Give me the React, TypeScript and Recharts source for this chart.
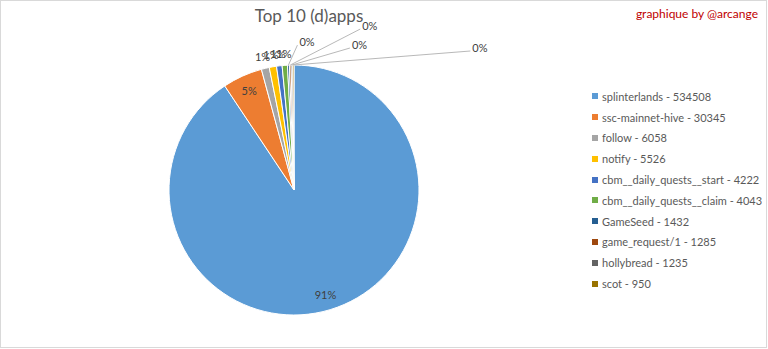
import { PieChart, Pie, Cell, Legend } from 'recharts'

const APPS = [
  'splinterlands',
  'ssc-mainnet-hive',
  'follow',
  'notify',
  'cbm__daily_quests__start',
  'cbm__daily_quests__claim',
  'GameSeed',
  'game_request/1',
  'hollybread',
  'scot',
]
const OPS = [534508, 30345, 6058, 5526, 4222, 4043, 1432, 1285, 1235, 950]
const COLORS = [
  '#5B9BD5',
  '#ED7D31',
  '#A5A5A5',
  '#FFC000',
  '#4472C4',
  '#70AD47',
  '#255E91',
  '#9E480E',
  '#636363',
  '#997300',
]

const data = APPS.map((name, i) => ({ name, value: OPS[i] }))

// leader line ends for the tiny 0% slices, offset from the slice's outer edge
const LEADERS: Record<number, { dx: number; dy: number }> = {
  6: { dx: 9, dy: -20 },
  7: { dx: 70, dy: -36 },
  8: { dx: 58, dy: -17 },
  9: { dx: 177, dy: -14 },
}

const RAD = Math.PI / 180
const FONT = 'Lato, "Open Sans", sans-serif'

function renderLabel(props: any) {
  const { cx, cy, midAngle, outerRadius, percent, index } = props
  const pct = Math.round(percent * 100)
  const cos = Math.cos(-midAngle * RAD)
  const sin = Math.sin(-midAngle * RAD)
  const textProps = { fill: '#404040', fontSize: 11, fontFamily: FONT }

  if (pct >= 3) {
    const r = outerRadius * 0.87
    return (
      <text x={cx + r * cos} y={cy + r * sin} textAnchor="middle" dominantBaseline="central" {...textProps}>
        {pct}%
      </text>
    )
  }
  if (pct >= 1) {
    const r = outerRadius + 12
    return (
      <text x={cx + r * cos} y={cy + r * sin} textAnchor="middle" dominantBaseline="central" {...textProps}>
        {pct}%
      </text>
    )
  }
  const lead = LEADERS[index] || { dx: 10, dy: -20 }
  const ox = cx + outerRadius * cos
  const oy = cy + outerRadius * sin
  const ex = ox + lead.dx
  const ey = oy + lead.dy
  return (
    <g>
      <line x1={ox} y1={oy} x2={ex} y2={ey} stroke="#a6a6a6" strokeWidth={0.8} />
      <text x={ex + 2} y={ey - 4} textAnchor="start" dominantBaseline="central" {...textProps}>
        {pct}%
      </text>
    </g>
  )
}

function renderLegend() {
  return (
    <div style={{ fontFamily: FONT, fontSize: 11, color: '#595959' }}>
      {APPS.map((name, i) => (
        <div key={name} style={{ display: 'flex', alignItems: 'center', height: 20.8 }}>
          <span style={{ width: 6, height: 6, background: COLORS[i], marginRight: 4, flexShrink: 0 }} />
          <span style={{ whiteSpace: 'nowrap' }}>
            {name} - {OPS[i]}
          </span>
        </div>
      ))}
    </div>
  )
}

export default function App() {
  return (
    <div
      style={{
        position: 'absolute',
        left: 0,
        top: 0,
        width: 765,
        height: 346,
        border: '1px solid #d9d9d9',
        background: '#fff',
      }}
    >
      <div
        style={{
          position: 'absolute',
          left: 208,
          width: 200,
          top: 4,
          textAlign: 'center',
          fontFamily: FONT,
          fontSize: 17,
          color: '#595959',
        }}
      >
        Top 10 (d)apps
      </div>
      <div
        style={{
          position: 'absolute',
          right: 8,
          top: 5,
          fontFamily: FONT,
          fontSize: 12,
          color: '#C00000',
        }}
      >
        graphique by @arcange
      </div>
      <PieChart width={765} height={346} margin={{ top: 0, right: 0, bottom: 0, left: 0 }}>
        <Pie
          data={data}
          dataKey="value"
          nameKey="name"
          cx={293}
          cy={189}
          outerRadius={125}
          startAngle={90}
          endAngle={-270}
          stroke="#fff"
          strokeWidth={1}
          label={renderLabel}
          labelLine={false}
          isAnimationActive={false}
        >
          {data.map((entry, i) => (
            <Cell key={entry.name} fill={COLORS[i]} />
          ))}
        </Pie>
        <Legend
          layout="vertical"
          align="right"
          verticalAlign="top"
          content={renderLegend}
          wrapperStyle={{ position: 'absolute', left: 591, top: 85, width: 170 }}
        />
      </PieChart>
    </div>
  )
}
